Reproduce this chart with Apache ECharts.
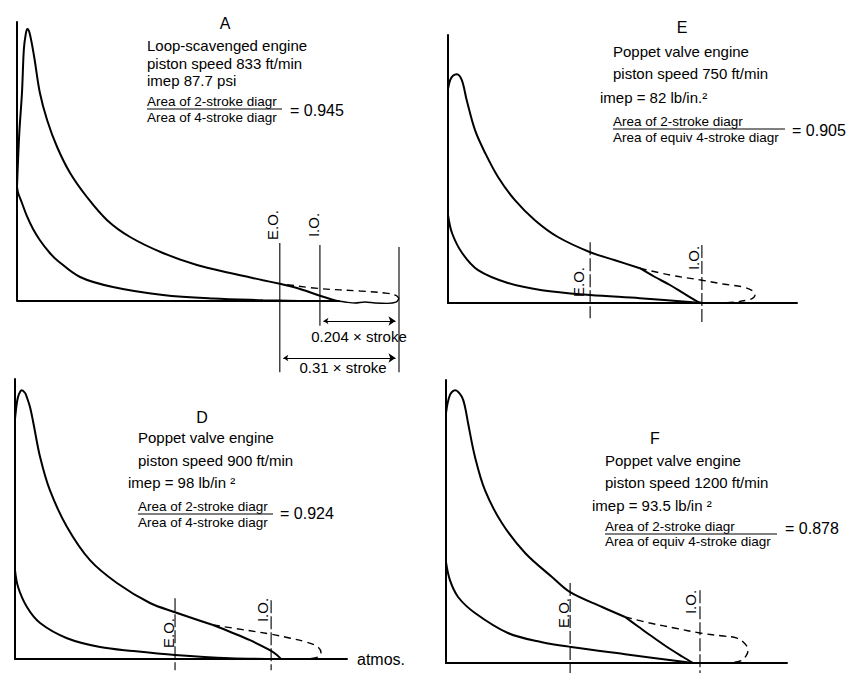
<!DOCTYPE html>
<html><head><meta charset="utf-8">
<script src="https://cdn.jsdelivr.net/npm/echarts@6/dist/echarts.min.js"></script>
<style>html,body{margin:0;padding:0;background:#fff}#c{width:855px;height:676px}</style>
</head><body><div id="c"></div>
<script>
// x = % of stroke (0 = head end), y = cylinder pressure above atmosphere (psi, approximate)

// ---- Panel A : loop-scavenged engine ----
const aExpansion  = [[0,285],[0.6,420],[1.3,520],[1.8,630],[2.3,668],[2.7,680],[3.3,670],[4.5,610],[6.0,520],[7.9,452],[10.5,385],[13.9,320],[18.3,260],[23.6,202],[29.6,160],[38.2,120],[47.1,90],[55.8,70],[64.4,52],[68.8,43]];
const aBlowdown   = [[68.8,43],[74.1,30],[79.3,13],[83.8,0]];
const aLoopDashed = [[70.7,41],[79.3,31],[89.8,25],[96.3,20],[99.2,14],[100,6]];
const aLoopBottom = [[100,6],[99.2,-3],[97,-6],[93.7,-5],[91.1,-2.5],[88.5,-5],[85.9,-2.5],[83.8,0]];
const aCompression= [[0,285],[0.3,270],[1.3,245],[2.6,212],[4.2,180],[6.0,152],[8.6,120],[10.5,102],[16.5,60],[25.1,35],[38.2,15],[51.3,6],[64.4,2],[74,0]];
const aAtmosLine  = [[0,0],[84.5,0]];
const aValves = {EO: 68.8, IO: 79.3, end: 100};
const aDimensions = [{from: 79.3, to: 100, label: '0.204 × stroke'}, {from: 68.8, to: 100, label: '0.31 × stroke'}];

// ---- Panel E : poppet valve engine, 750 ft/min ----
const eExpansion  = [[0,535],[0.7,557],[1.6,568],[2.9,572],[4.5,557],[6.1,507],[8.8,432],[12.1,375],[16.3,315],[21.8,257],[28.3,207],[35.8,165],[46.3,127],[54.4,107],[62.5,87]];
const eBlowdown   = [[62.5,87],[67.4,65],[72.3,45],[77.2,22],[81.4,3],[82.7,0]];
const eLoopDashed = [[62.5,87],[72.3,70],[82.7,57],[90,47],[96.1,40],[99.3,30],[100,20],[99.3,12],[97.4,7],[92.8,2],[87,0]];
const eCompression= [[0,220],[1.3,175],[4.6,125],[9.8,82],[19.5,50],[30.6,32],[46.3,20],[62.5,12],[82.7,0]];
const eValves = {EO: 46.3, IO: 82.7};

// ---- Panel D : poppet valve engine, 900 ft/min ----
const dExpansion  = [[0,600],[0.7,645],[1.3,662],[2.2,672],[3.3,665],[3.8,656],[4.9,630],[6.0,590],[8.2,505],[11.4,422],[17.0,330],[24.5,247],[33.3,190],[44.1,140],[52.3,117],[64.7,85]];
const dBlowdown   = [[64.7,85],[70.6,67],[76.8,47],[83.3,22],[85.6,10],[86.9,0]];
const dLoopDashed = [[64.7,85],[73.9,74],[83.7,62],[90,52],[95.4,42],[99,30],[100,15],[99,5],[96.4,1],[93.1,0]];
const dCompression= [[0,222],[1.0,180],[3.9,130],[8.2,90],[17.0,52],[27.8,30],[38.6,20],[52.3,10],[70.3,2],[86.9,0]];
const dValves = {EO: 52.3, IO: 83.7};

// ---- Panel F : poppet valve engine, 1200 ft/min ----
const fExpansion  = [[0,625],[1.3,670],[3.0,682],[5.2,666],[6.3,640],[7.3,600],[9.6,515],[12.9,432],[18.5,350],[26.2,275],[35.1,215],[41.1,177],[51.7,140],[59.3,115]];
const fBlowdown   = [[59.3,115],[63.5,92],[67.5,70],[73.2,40],[78.5,15],[81.8,0]];
const fLoopDashed = [[59.3,115],[67.5,100],[76,87],[84.1,75],[91,68],[96.4,62],[99,48],[100,32],[99.3,17],[97.4,5],[93,0]];
const fCompression= [[0,252],[1.3,207],[4.0,165],[9.6,125],[20.5,75],[31.8,52],[41.4,40],[59.3,22],[81.8,0]];
const fValves = {EO: 41.1, IO: 84.1};

// ---- layout (pixels) ----
const PSI_PER_PX = 2.5;
const panels = [
  {grid:{left:17, top:22, width:392, height:279}, strokePx:382, hideXAxisLine:true, atmos:aAtmosLine,
   exp:aExpansion, blow:aBlowdown, loop:aLoopDashed, bottom:aLoopBottom, comp:aCompression,
   valveLines:[[aValves.EO,145,-178],[aValves.IO,140,-62],[aValves.end,135,-178]], valveDash:'solid'},
  {grid:{left:448, top:35, width:349, height:268}, strokePx:307, exp:eExpansion, blow:eBlowdown, loop:eLoopDashed, comp:eCompression,
   valveLines:[[eValves.EO,152,-38],[eValves.IO,145,-48]], valveDash:[13,3]},
  {grid:{left:15, top:379, width:332, height:280}, strokePx:306, exp:dExpansion, blow:dBlowdown, loop:dLoopDashed, comp:dCompression,
   valveLines:[[dValves.EO,152,-28],[dValves.IO,147,-28]], valveDash:[13,3]},
  {grid:{left:446, top:380, width:341, height:283}, strokePx:302, exp:fExpansion, blow:fBlowdown, loop:fLoopDashed, comp:fCompression,
   valveLines:[[fValves.EO,200,-25],[fValves.IO,182,-25]], valveDash:[13,3]}
];
const dimY = [-50, -142.5];
const ARROW_LEN_PX = 7;

const grids = [], xAxes = [], yAxes = [], series = [];
const solid = (w) => ({color:'#000', width:w});
panels.forEach((p, i) => {
  grids.push(Object.assign({containLabel:false}, p.grid));
  const axisCommon = () => ({axisLine:{show:true, onZero:false, lineStyle:{color:'#000', width:2}}, axisTick:{show:false}, axisLabel:{show:false}, splitLine:{show:false}});
  const xa = Object.assign({type:'value', gridIndex:i, min:0, max:p.grid.width / p.strokePx * 100}, axisCommon());
  if (p.hideXAxisLine) xa.axisLine.show = false;
  xAxes.push(xa);
  yAxes.push(Object.assign({type:'value', gridIndex:i, min:0, max:p.grid.height * PSI_PER_PX}, axisCommon()));
  const base = {type:'line', xAxisIndex:i, yAxisIndex:i, showSymbol:false, symbol:'none', clip:false, silent:true, z:3};
  if (p.atmos) series.push(Object.assign({}, base, {data:p.atmos, lineStyle:solid(2)}));
  series.push(Object.assign({}, base, {data:p.exp, smooth:0.35, lineStyle:solid(2)}));
  series.push(Object.assign({}, base, {data:p.blow, smooth:0.35, lineStyle:solid(2)}));
  series.push(Object.assign({}, base, {data:p.comp, smooth:0.35, lineStyle:solid(2)}));
  series.push(Object.assign({}, base, {data:p.loop, smooth:0.4, lineStyle:{color:'#000', width:1.4, type:[7,5]}}));
  if (p.bottom) series.push(Object.assign({}, base, {data:p.bottom, smooth:0.3, lineStyle:solid(1.4)}));
  p.valveLines.forEach(v => {
    series.push(Object.assign({}, base, {data:[[v[0], v[1]], [v[0], v[2]]], lineStyle:{color:'#000', width:1.1, type:p.valveDash}}));
  });
});
// dimension arrows (panel A): the arrow symbol is centred on its end point, so pull ends in by half its length
const inset = (ARROW_LEN_PX / 2) / panels[0].strokePx * 100;
series.push({type:'lines', coordinateSystem:'cartesian2d', xAxisIndex:0, yAxisIndex:0, clip:false, silent:true,
  symbol:['arrow','arrow'], symbolSize:[5, ARROW_LEN_PX], lineStyle:{color:'#000', width:1, opacity:1},
  data: aDimensions.map((d, k) => ({coords:[[d.from + inset, dimY[k]], [d.to - inset, dimY[k]]]}))});

const FONT = '"Liberation Sans", Arial, sans-serif';
function txt(x, y, s, size, align, rot) {
  return {type:'text', x:x, y:y, rotation: rot || 0, silent:true,
    style:{text:s, fill:'#000', font: (size||15) + 'px ' + FONT, align: align || 'left', verticalAlign:'middle'}};
}
function hline(x1, x2, y) {
  return {type:'line', silent:true, shape:{x1:x1, y1:y, x2:x2, y2:y}, style:{stroke:'#000', lineWidth:1}};
}
const V = Math.PI / 2;
const graphics = [
  // A
  txt(225, 23, 'A', 16, 'center'),
  txt(147, 45, 'Loop-scavenged engine'),
  txt(147, 63, 'piston speed 833 ft/min'),
  txt(147, 80, 'imep 87.7 psi'),
  txt(147, 101, 'Area of 2-stroke diagr', 13.5),
  hline(147, 282, 109),
  txt(147, 117, 'Area of 4-stroke diagr', 13.5),
  txt(290, 110, '= 0.945', 16),
  txt(272, 225, 'E.O.', 15, 'center', V),
  txt(313, 225, 'I.O.', 15, 'center', V),
  txt(359, 336, aDimensions[0].label, 15, 'center'),
  txt(343, 367, aDimensions[1].label, 15, 'center'),
  // E
  txt(682, 27, 'E', 16, 'center'),
  txt(613, 51, 'Poppet valve engine'),
  txt(613, 73, 'piston speed 750 ft/min'),
  txt(600, 97, 'imep = 82 lb/in.²'),
  txt(613, 121, 'Area of 2-stroke diagr', 13.5),
  hline(613, 785, 129),
  txt(613, 137, 'Area of equiv 4-stroke diagr', 13.5),
  txt(792, 130, '= 0.905', 16),
  txt(578, 282, 'E.O.', 15, 'center', V),
  txt(693, 258, 'I.O.', 15, 'center', V),
  // D
  txt(202, 417, 'D', 16, 'center'),
  txt(138, 437, 'Poppet valve engine'),
  txt(138, 460, 'piston speed 900 ft/min'),
  txt(128, 482, 'imep = 98 lb/in ²'),
  txt(138, 506, 'Area of 2-stroke diagr', 13.5),
  hline(138, 273, 514),
  txt(138, 522, 'Area of 4-stroke diagr', 13.5),
  txt(280, 513, '= 0.924', 16),
  txt(357, 659, 'atmos.', 16),
  txt(168, 633, 'E.O.', 15, 'center', V),
  txt(262, 610, 'I.O.', 15, 'center', V),
  // F
  txt(655, 438, 'F', 16, 'center'),
  txt(605, 460, 'Poppet valve engine'),
  txt(605, 482, 'piston speed 1200 ft/min'),
  txt(592, 505, 'imep = 93.5 lb/in ²'),
  txt(605, 526, 'Area of 2-stroke diagr', 13.5),
  hline(605, 777, 534),
  txt(605, 541, 'Area of equiv 4-stroke diagr', 13.5),
  txt(785, 528, '= 0.878', 16),
  txt(563, 613, 'E.O.', 15, 'center', V),
  txt(690, 602, 'I.O.', 15, 'center', V)
];

const chart = echarts.init(document.getElementById('c'), null, {renderer:'svg'});
chart.setOption({
  animation:false, backgroundColor:'#fff',
  grid:grids, xAxis:xAxes, yAxis:yAxes, series:series, graphic:graphics
});
</script></body></html>
